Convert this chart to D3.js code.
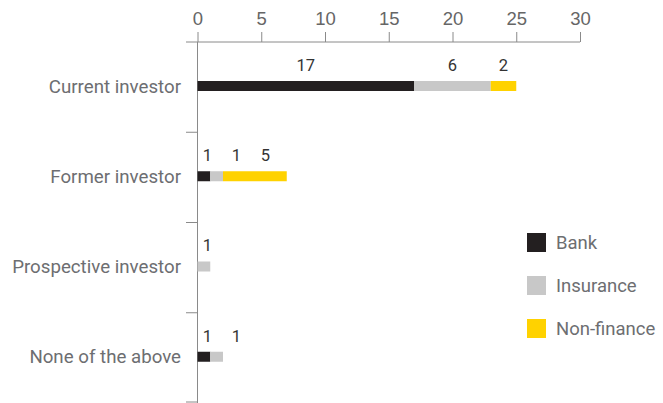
<!DOCTYPE html>
<html>
<head>
<meta charset="utf-8">
<script src="https://cdn.jsdelivr.net/npm/d3@7"></script>
<style>
  html, body { margin: 0; padding: 0; background: #fff; }
  svg { display: block; font-family: Roboto, "Liberation Sans", sans-serif; }
</style>
</head>
<body>
<svg id="chart" width="663" height="403"></svg>
<script>
// Investor status by sector of respondent
const categories = ["Current investor", "Former investor", "Prospective investor", "None of the above"];
const seriesNames = ["Bank", "Insurance", "Non-finance"];
const bank = [17, 1, 0, 1];
const insurance = [6, 1, 1, 1];
const nonFinance = [2, 5, 0, 0];
const xTicks = [0, 5, 10, 15, 20, 25, 30];
const colors = ["#231f20", "#c8c8c8", "#ffd200"];

const svg = d3.select("#chart");
const axisColor = "#8a8a8a";

const x = d3.scaleLinear().domain([0, 30]).range([197.5, 580]);
const y = d3.scaleBand().domain(categories).range([42, 403]).padding(0);
const barH = 10;
const barOffset = 39;

const rows = categories.map((c, i) => {
  const o = { category: c };
  o["Bank"] = bank[i];
  o["Insurance"] = insurance[i];
  o["Non-finance"] = nonFinance[i];
  return o;
});
const stacked = d3.stack().keys(seriesNames)(rows);

// top value axis
const xAxis = d3.axisTop(x).tickValues(xTicks).tickSize(10).tickPadding(7).tickSizeOuter(0);
const gx = svg.append("g").attr("transform", "translate(0,42)").call(xAxis);
gx.select(".domain").remove();
gx.selectAll(".tick line").attr("stroke", axisColor);
gx.selectAll(".tick text")
  .attr("fill", "#666")
  .style("font-size", "18.5px");
svg.append("line")
  .attr("x1", 186).attr("x2", x(30))
  .attr("y1", 42).attr("y2", 42)
  .attr("stroke", axisColor);

// vertical category axis with separators between bands
svg.append("line")
  .attr("x1", x(0)).attr("x2", x(0))
  .attr("y1", 42).attr("y2", 403)
  .attr("stroke", axisColor);
svg.append("g").selectAll("line")
  .data(categories.slice(1).concat(["end"]))
  .join("line")
  .attr("x1", 186).attr("x2", x(0))
  .attr("y1", (d, i) => i < categories.length - 1 ? y(categories[i + 1]) : y.range()[1] - 1)
  .attr("y2", (d, i) => i < categories.length - 1 ? y(categories[i + 1]) : y.range()[1] - 1)
  .attr("stroke", axisColor);

// category labels
svg.append("g").selectAll("text")
  .data(categories)
  .join("text")
  .attr("x", 181)
  .attr("y", d => y(d) + barOffset + barH / 2)
  .attr("dy", "0.35em")
  .attr("text-anchor", "end")
  .attr("fill", "#6d6e71")
  .style("font-size", "18.7px")
  .text(d => d);

// stacked bars
svg.append("g").selectAll("g")
  .data(stacked)
  .join("g")
  .attr("fill", (d, i) => colors[i])
  .selectAll("rect")
  .data(d => d)
  .join("rect")
  .attr("x", d => x(d[0]))
  .attr("y", d => y(d.data.category) + barOffset)
  .attr("width", d => x(d[1]) - x(d[0]))
  .attr("height", barH);

// value labels above each segment, nudged apart so they don't collide
const labels = [];
categories.forEach((c, ci) => {
  let prev = -Infinity;
  stacked.forEach(s => {
    const seg = s[ci];
    const v = seg[1] - seg[0];
    if (v <= 0) return;
    const center = (x(seg[0]) + x(seg[1])) / 2;
    const px = Math.max(center, x(seg[0]) + 10, prev + 29);
    prev = px;
    labels.push({ x: px, y: y(c) + barOffset - 16, v });
  });
});
svg.append("g").selectAll("text")
  .data(labels)
  .join("text")
  .attr("x", d => d.x)
  .attr("y", d => d.y)
  .attr("dy", "0.35em")
  .attr("text-anchor", "middle")
  .attr("fill", "#333")
  .style("font-size", "16.5px")
  .text(d => d.v);

// legend
const legend = svg.append("g").selectAll("g")
  .data(seriesNames)
  .join("g")
  .attr("transform", (d, i) => `translate(527,${233 + i * 43})`);
legend.append("rect")
  .attr("width", 19).attr("height", 19)
  .attr("fill", (d, i) => colors[i]);
legend.append("text")
  .attr("x", 29).attr("y", 9.5)
  .attr("dy", "0.35em")
  .attr("fill", "#6d6e71")
  .style("font-size", "18.5px")
  .text(d => d);
</script>
</body>
</html>
